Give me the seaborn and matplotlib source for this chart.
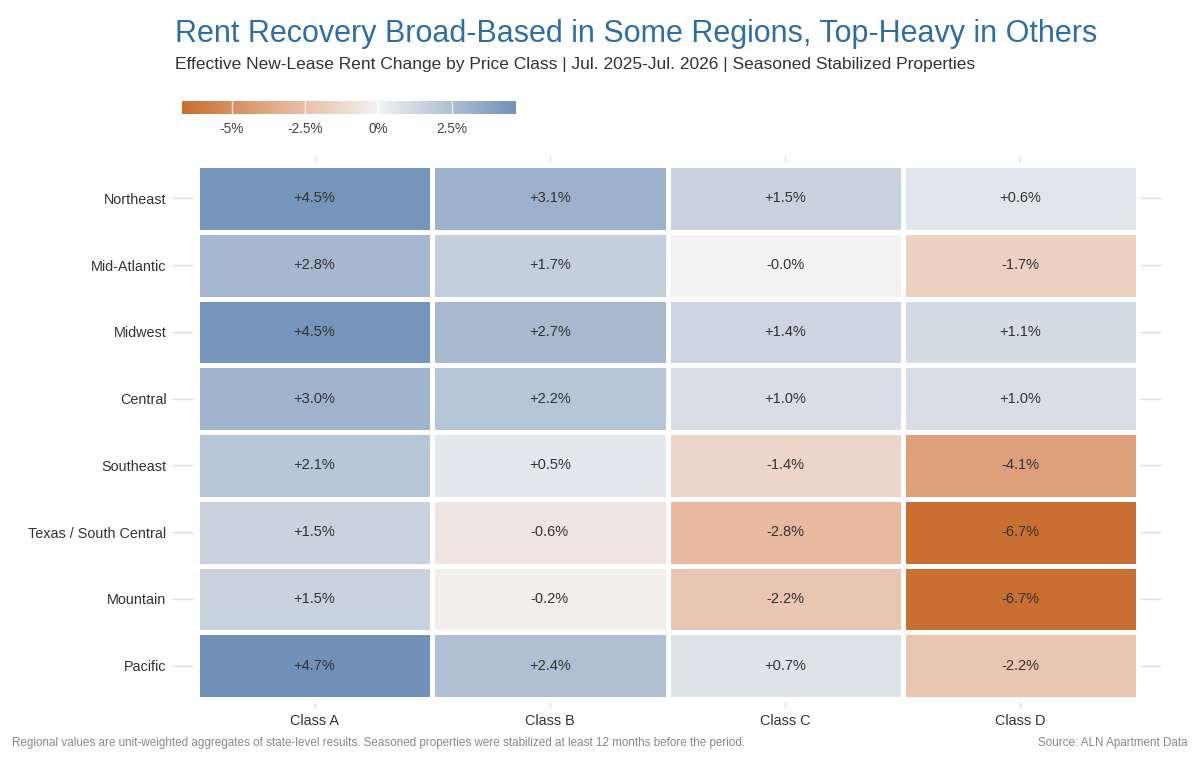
import numpy as np
import pandas as pd
import seaborn as sns
import matplotlib.pyplot as plt
from matplotlib.colors import LinearSegmentedColormap

# Data
regions = ["Northeast", "Mid-Atlantic", "Midwest", "Central", "Southeast",
           "Texas / South Central", "Mountain", "Pacific"]
classes = ["Class A", "Class B", "Class C", "Class D"]
class_a = [4.5, 2.8, 4.5, 3.0, 2.1, 1.5, 1.5, 4.7]
class_b = [3.1, 1.7, 2.7, 2.2, 0.5, -0.6, -0.2, 2.4]
class_c = [1.5, -0.02, 1.4, 1.0, -1.4, -2.8, -2.2, 0.7]
class_d = [0.6, -1.7, 1.1, 1.0, -4.1, -6.7, -6.7, -2.2]
cbar_ticks = [-5, -2.5, 0, 2.5]
cbar_labels = ["-5%", "-2.5%", "0%", "2.5%"]

data = pd.DataFrame({"Class A": class_a, "Class B": class_b,
                     "Class C": class_c, "Class D": class_d}, index=regions)
labels = data.map(lambda v: f"{v:+.1f}%")

sns.set_style("white")
plt.rcParams['font.family'] = ['Liberation Sans', 'DejaVu Sans']

# diverging scale, neutral at 0, full colour at each end of the data range
vmin, vmax = data.values.min(), data.values.max()
pos = lambda v: (v - vmin) / (vmax - vmin)
cmap = LinearSegmentedColormap.from_list("rent", [
    (0.0, "#c86f31"),
    (pos(0.42 * vmin), "#e8b99f"),
    (pos(0), "#f2f2f2"),
    (1.0, "#7191b8"),
])

fig = plt.figure(figsize=(12, 7.6), dpi=100)
ax = fig.add_axes([197/1200, 1 - 699/760, 941/1200, 534/760])
cax = fig.add_axes([182/1200, 1 - 114/760, 334/1200, 13/760])

sns.heatmap(data, ax=ax, cmap=cmap, vmin=vmin, vmax=vmax, annot=labels, fmt="",
            annot_kws={"size": 10.5, "color": "#333333"},
            linewidths=3.5, linecolor="white",
            cbar_ax=cax, cbar_kws={"orientation": "horizontal", "ticks": cbar_ticks})

for s in ax.spines.values():
    s.set_visible(False)
ax.spines["left"].set_position(("outward", 3))
ax.spines["right"].set_position(("outward", 1.5))
ax.spines["top"].set_position(("outward", 2))
ax.spines["bottom"].set_position(("outward", 2))

ax.tick_params(axis="y", left=True, right=True, length=15, width=1, color="#dddddd",
               pad=4, labelsize=10.4, labelcolor="#333333", rotation=0)
ax.tick_params(axis="x", bottom=True, top=True, length=4, width=1, color="#dddddd",
               pad=5, labelsize=10.4, labelcolor="#333333")
ax.set_xlabel("")
ax.set_ylabel("")

cb = ax.collections[0].colorbar
cb.outline.set_visible(False)
cb.set_ticklabels(cbar_labels)
cax.tick_params(axis="x", bottom=True, length=0, pad=6, labelsize=9.8, labelcolor="#444444")
for t in cbar_ticks:
    cax.axvline(t, color="white", lw=1, alpha=0.8, zorder=5)

fig.text(175/1200, 1 - 34/760, "Rent Recovery Broad-Based in Some Regions, Top-Heavy in Others",
         fontsize=22, color="#2f6ea5", va="center", ha="left")
fig.text(175/1200, 1 - 65/760,
         "Effective New-Lease Rent Change by Price Class | Jul. 2025-Jul. 2026 | Seasoned Stabilized Properties",
         fontsize=12.5, color="#333333", va="center", ha="left")
fig.text(12/1200, 1 - 743/760,
         "Regional values are unit-weighted aggregates of state-level results. Seasoned properties were stabilized at least 12 months before the period.",
         fontsize=8.4, color="#888888", va="center", ha="left")
fig.text(1188/1200, 1 - 743/760, "Source: ALN Apartment Data",
         fontsize=8.4, color="#888888", va="center", ha="right")

fig.savefig("out.png", dpi=100)
